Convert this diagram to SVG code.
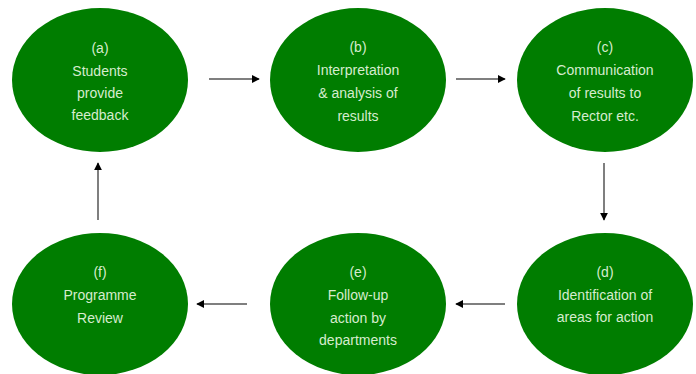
<svg xmlns="http://www.w3.org/2000/svg" width="696" height="374" viewBox="0 0 696 374">
<defs>
<marker id="ah" viewBox="0 0 10 10" refX="9" refY="5" markerWidth="8" markerHeight="8" markerUnits="userSpaceOnUse" orient="auto">
<path d="M0,0 L10,5 L0,10 z" fill="#000"/>
</marker>
<style>
.n ellipse{fill:#007d00;}
.n text{fill:#d6ecce;font-family:"Liberation Sans","Open Sans",sans-serif;font-size:14px;text-anchor:middle;}
.c line{stroke:#555;stroke-width:1.5;marker-end:url(#ah);}
</style>
</defs>
<rect width="696" height="374" fill="#fff"/>
<g class="c">
<line x1="209" y1="79" x2="259" y2="79"/>
<line x1="456" y1="79" x2="505" y2="79"/>
<line x1="604" y1="163" x2="604" y2="220"/>
<line x1="505" y1="304" x2="456" y2="304"/>
<line x1="247" y1="304" x2="197" y2="304"/>
<line x1="98" y1="220" x2="98" y2="163"/>
</g>
<g id="a" class="n"><ellipse cx="100" cy="80" rx="88" ry="72"/>
<text x="100" y="53">(a)</text><text x="100" y="76">Students</text><text x="100" y="98">provide</text><text x="100" y="120">feedback</text></g>
<g id="b" class="n"><ellipse cx="358" cy="80" rx="88" ry="72"/>
<text x="358" y="52">(b)</text><text x="358" y="75">Interpretation</text><text x="358" y="98">&amp; analysis of</text><text x="358" y="121">results</text></g>
<g id="c" class="n"><ellipse cx="605" cy="80" rx="88" ry="72"/>
<text x="605" y="52">(c)</text><text x="605" y="75">Communication</text><text x="605" y="98">of results to</text><text x="605" y="121">Rector etc.</text></g>
<g id="d" class="n"><ellipse cx="605" cy="304" rx="88" ry="71"/>
<text x="605" y="277">(d)</text><text x="605" y="300">Identification of</text><text x="605" y="322">areas for action</text></g>
<g id="e" class="n"><ellipse cx="358" cy="304" rx="88" ry="71"/>
<text x="358" y="277">(e)</text><text x="358" y="300">Follow-up</text><text x="358" y="323">action by</text><text x="358" y="345">departments</text></g>
<g id="f" class="n"><ellipse cx="100" cy="304" rx="88" ry="71"/>
<text x="100" y="277">(f)</text><text x="100" y="300">Programme</text><text x="100" y="323">Review</text></g>
</svg>
